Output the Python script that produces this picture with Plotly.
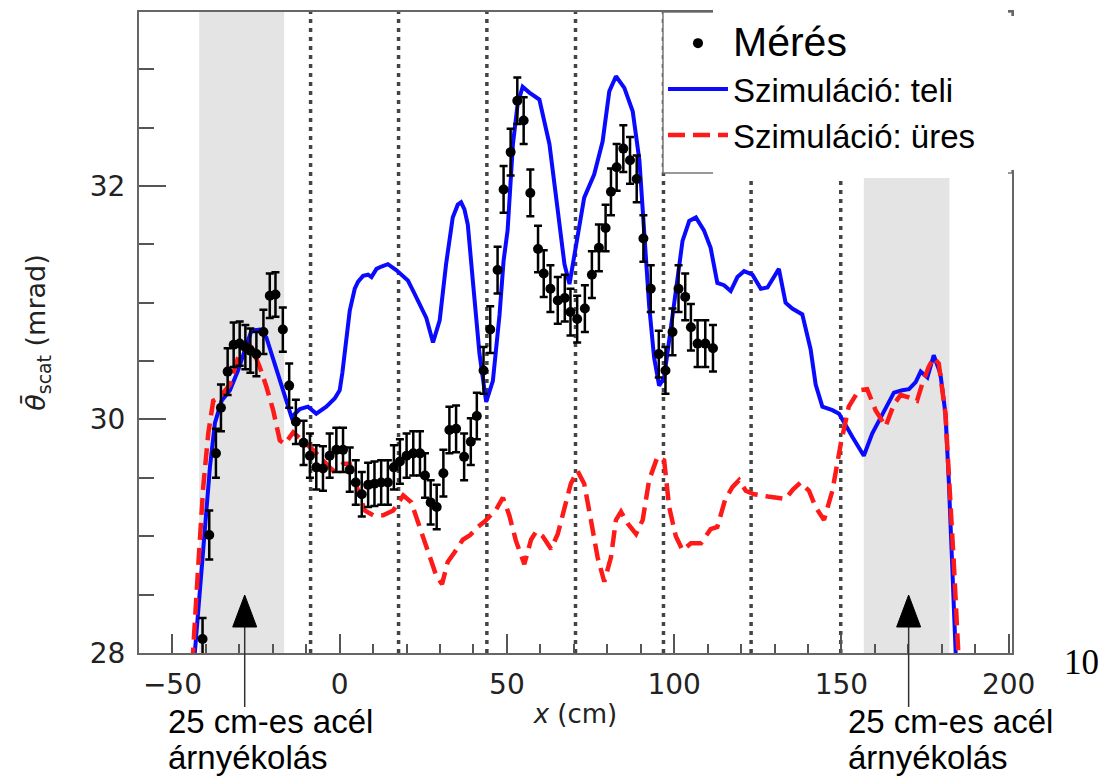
import plotly.graph_objects as go

# ---------------- data ----------------
meas_x = [-41.0, -39.0, -37.0, -35.5, -33.5, -31.7, -29.9, -28.2, -26.7, -24.9,
          -22.8, -20.9, -19.2, -17.0, -15.1, -13.1, -10.8, -8.9, -7.0, -5.0,
          -3.0, -1.0, 1.0, 3.0, 4.8, 6.6, 8.5, 10.4, 12.4, 14.4,
          16.2, 18.0, 20.0, 22.0, 24.0, 25.5, 27.2, 29.0, 31.0, 32.8,
          34.8, 37.2, 39.2, 41.0, 43.0, 45.0, 47.2, 49.0, 51.1, 53.1,
          55.0, 57.0, 59.3, 61.0, 63.0, 65.2, 67.3, 69.0, 71.0, 73.3,
          75.4, 77.5, 79.5, 81.1, 82.8, 84.8, 86.8, 88.8, 90.8, 93.0,
          95.4, 97.4, 99.5, 101.3, 103.3, 105.0, 107.0, 109.3, 111.6]
meas_y = [28.12, 29.01, 29.71, 30.10, 30.41, 30.64, 30.65, 30.62, 30.59, 30.56,
          30.75, 31.06, 31.07, 30.77, 30.29, 29.98, 29.80, 29.69, 29.59, 29.58,
          29.69, 29.74, 29.74, 29.57, 29.46, 29.36, 29.44, 29.45, 29.46, 29.46,
          29.59, 29.64, 29.69, 29.71, 29.71, 29.52, 29.29, 29.25, 29.54, 29.91,
          29.92, 29.68, 29.81, 30.03, 30.42, 30.77, 31.28, 31.97, 32.29, 32.73,
          32.56, 31.94, 31.46, 31.25, 31.12, 31.02, 31.04, 30.92, 30.86, 30.95,
          31.24, 31.47, 31.64, 31.95, 32.16, 32.32, 32.22, 32.06, 31.55, 31.12,
          30.56, 30.42, 30.75, 31.12, 31.05, 30.79, 30.65, 30.65, 30.61]
meas_err = [0.18, 0.21, 0.21, 0.20, 0.20, 0.19, 0.19, 0.19, 0.19, 0.19,
            0.19, 0.19, 0.19, 0.19, 0.19, 0.19, 0.19, 0.19, 0.19, 0.19,
            0.19, 0.19, 0.19, 0.19, 0.19, 0.19, 0.19, 0.19, 0.19, 0.19,
            0.19, 0.19, 0.19, 0.19, 0.19, 0.19, 0.19, 0.19, 0.20, 0.20,
            0.20, 0.20, 0.20, 0.20, 0.20, 0.20, 0.20, 0.20, 0.20, 0.20,
            0.20, 0.20, 0.20, 0.20, 0.20, 0.20, 0.20, 0.20, 0.20, 0.20,
            0.20, 0.20, 0.20, 0.20, 0.20, 0.20, 0.20, 0.20, 0.20, 0.20,
            0.20, 0.20, 0.20, 0.20, 0.20, 0.20, 0.20, 0.20, 0.20]

full_x = [-43.6, -43.3, -41.8, -40.3, -38.8, -37.3, -35.3, -32.8, -30.4, -28.4,
          -26.4, -23.9, -21.9, -19.9, -17.9, -15.9, -14.4, -11.9, -9.5, -7.0,
          -4.0, -1.5, 0.0, 0.8, 1.8, 3.0, 4.5, 5.5, 7.0, 8.5,
          9.5, 11.0, 12.5, 14.4, 16.9, 18.5, 20.4, 22.0, 23.9, 25.9,
          27.9, 29.9, 31.8, 33.8, 35.3, 36.3, 37.3, 38.3, 39.8, 41.8,
          43.8, 45.8, 47.8, 49.0, 50.2, 51.8, 53.2, 54.7, 56.7, 59.7,
          61.2, 62.7, 65.2, 67.2, 68.7, 70.6, 73.1, 76.1, 78.6, 80.6,
          82.6, 85.1, 87.6, 89.6, 91.0, 92.5, 94.0, 95.5, 97.0, 98.5,
          100.5, 102.5, 104.5, 106.5, 108.9, 110.9, 112.9, 114.9, 116.9, 118.9,
          120.9, 123.4, 125.9, 127.9, 131.3, 133.3, 135.3, 138.3, 140.8, 142.3,
          144.3, 147.3, 149.3, 153.3, 156.7, 159.2, 162.2, 165.7, 168.2, 170.2,
          172.2, 173.7, 175.7, 177.6, 179.6, 181.1, 182.1, 183.1, 184.1, 184.3]
full_y = [27.90, 28.00, 28.51, 29.08, 29.59, 29.97, 30.16, 30.25, 30.42, 30.59,
          30.76, 30.77, 30.70, 30.52, 30.33, 30.16, 30.02, 30.09, 30.11, 30.05,
          30.11, 30.18, 30.25, 30.40, 30.65, 30.93, 31.12, 31.18, 31.23, 31.24,
          31.22, 31.29, 31.31, 31.33, 31.28, 31.24, 31.19, 31.10, 30.99, 30.87,
          30.66, 30.85, 31.33, 31.73, 31.84, 31.86, 31.80, 31.67, 31.19, 30.56,
          30.15, 30.33, 30.90, 31.36, 31.62, 32.36, 32.70, 32.85, 32.80, 32.74,
          32.55, 32.36, 31.79, 31.33, 31.16, 31.47, 31.90, 32.10, 32.38, 32.81,
          32.94, 32.84, 32.64, 32.22, 31.62, 30.98, 30.53, 30.29, 30.36, 30.70,
          31.10, 31.53, 31.70, 31.73, 31.62, 31.47, 31.17, 31.15, 31.10, 31.22,
          31.27, 31.24, 31.12, 31.13, 31.29, 31.00, 30.95, 30.90, 30.60, 30.30,
          30.11, 30.08, 30.05, 29.85, 29.69, 29.88, 30.05, 30.23, 30.25, 30.26,
          30.32, 30.41, 30.36, 30.55, 30.39, 30.05, 29.48, 28.77, 28.03, 27.90]

empty_x = [-44.0, -43.8, -42.3, -40.8, -39.3, -37.8, -35.8, -32.8, -30.4, -28.9,
           -26.4, -23.9, -21.9, -19.9, -17.9, -16.4, -13.9, -10.9, -8.0, -5.0,
           -2.0, 1.0, 3.0, 5.5, 7.5, 10.0, 13.0, 16.0, 19.0, 21.4,
           24.2, 26.8, 28.9, 30.6, 32.3, 34.3, 36.8, 39.0, 41.3, 43.5,
           46.8, 48.8, 50.7, 52.7, 55.2, 57.2, 58.7, 60.7, 63.2, 65.2,
           67.2, 69.1, 71.1, 73.1, 75.1, 77.1, 79.1, 81.1, 82.6, 84.1,
           86.1, 88.6, 90.6, 92.5, 95.0, 97.0, 98.5, 100.5, 102.5, 105.0,
           108.0, 110.9, 112.9, 115.2, 117.4, 119.4, 121.4, 123.9, 128.0, 131.5,
           133.3, 135.5, 137.8, 140.3, 142.3, 144.8, 147.3, 149.8, 152.2, 155.2,
           157.7, 160.2, 163.2, 165.7, 167.7, 170.1, 172.6, 174.1, 176.1, 177.6,
           179.1, 181.1, 182.6, 183.6, 184.9, 185.1]
empty_y = [27.90, 28.03, 28.74, 29.42, 29.88, 30.16, 30.19, 30.30, 30.53, 30.65,
           30.62, 30.45, 30.28, 30.08, 29.82, 29.79, 29.89, 29.82, 29.74, 29.65,
           29.56, 29.62, 29.62, 29.39, 29.22, 29.18, 29.18, 29.22, 29.35, 29.29,
           29.06, 28.85, 28.66, 28.59, 28.78, 28.86, 28.97, 29.01, 29.08, 29.13,
           29.23, 29.33, 29.18, 28.96, 28.76, 28.97, 29.04, 29.00, 28.89, 29.02,
           29.25, 29.45, 29.56, 29.45, 29.14, 28.82, 28.61, 28.82, 29.14, 29.21,
           29.11, 29.02, 29.14, 29.48, 29.68, 29.65, 29.25, 29.00, 28.88, 28.94,
           28.94, 29.06, 29.08, 29.31, 29.42, 29.48, 29.39, 29.36, 29.34, 29.33,
           29.32, 29.40, 29.46, 29.39, 29.25, 29.14, 29.39, 29.79, 30.11, 30.25,
           30.26, 30.08, 29.94, 30.13, 30.21, 30.19, 30.16, 30.30, 30.45, 30.53,
           30.48, 30.05, 29.34, 28.77, 28.03, 27.90]

boundary_x = [-8.7, 17.6, 44.0, 70.5, 96.8, 123.0, 149.8]      # dotted section borders
shield_x0 = [-42.0, 156.7]                                    # steel shielding regions
shield_x1 = [-16.6, 182.3]
arrow_x = [-28.4, 170.1]                                      # callout arrows
label_x = [-52.0, 151.3]
label_lines = ["25 cm-es acél", "árnyékolás"]

x_range = [-60, 201]
y_range = [28, 33.49]
x_ticks = [-50, 0, 50, 100, 150, 200]
y_ticks = [28, 30, 32]

# ---------------- figure ----------------
fig = go.Figure()

fig.add_trace(go.Scatter(
    x=full_x, y=full_y, mode="lines", name="Szimuláció: teli",
    line=dict(color="#0a0aff", width=4), legendrank=2))
fig.add_trace(go.Scatter(
    x=empty_x, y=empty_y, mode="lines", name="Szimuláció: üres",
    line=dict(color="#ff1a1a", width=4.5, dash="17px,8px"), legendrank=3))
fig.add_trace(go.Scatter(
    x=meas_x, y=meas_y, mode="markers", name='<span style="font-size:41px">Mérés</span>',
    marker=dict(color="black", size=10, symbol="circle"),
    error_y=dict(type="data", array=meas_err, color="black", thickness=2.5, width=4),
    legendrank=1))

shapes = []
# grey shielding bands
for a, b in zip(shield_x0, shield_x1):
    shapes.append(dict(type="rect", xref="x", yref="paper", x0=a, x1=b, y0=0, y1=1,
                       fillcolor="#e4e4e4", line=dict(width=0), layer="below"))
# dotted section borders
for bx in boundary_x:
    shapes.append(dict(type="line", xref="x", yref="paper", x0=bx, x1=bx, y0=0, y1=1,
                       line=dict(color="#444444", width=3.5, dash="4px,5px"), layer="below"))
# legend frame
shapes.append(dict(type="rect", xref="paper", yref="paper", x0=0.6002, x1=1.0, y0=0.7488, y1=1.0,
                   fillcolor="white", line=dict(color="#777777", width=1.5), layer="below"))
# white label patch over the legend (as in the reference)
shapes.append(dict(type="rect", xref="paper", yref="paper", x0=0.6575, x1=0.9954, y0=0.741, y1=1.012,
                   fillcolor="white", line=dict(width=0), layer="above"))
shapes.append(dict(type="rect", xref="paper", yref="paper", x0=0.9954, x1=1.006, y0=0.7535, y1=0.9938,
                   fillcolor="white", line=dict(width=0), layer="above"))
# callout arrows
for ax_ in arrow_x:
    shapes.append(dict(type="line", xref="x", yref="paper", xsizemode="pixel", ysizemode="pixel",
                       xanchor=ax_, yanchor=0, x0=0, x1=0, y0=27, y1=-54,
                       line=dict(color="#333333", width=1.5), layer="above"))
    shapes.append(dict(type="path", xref="x", yref="paper", xsizemode="pixel", ysizemode="pixel",
                       xanchor=ax_, yanchor=0, path="M0,58 L-12,26 L12,26 Z",
                       fillcolor="black", line=dict(color="black", width=1), layer="above"))

annotations = []
for lx in label_x:
    annotations.append(dict(x=lx, y=-0.1076, xref="x", yref="paper", text=label_lines[0],
                            showarrow=False, xanchor="left", yanchor="middle",
                            font=dict(family="Liberation Sans", size=33, color="black")))
    annotations.append(dict(x=lx, y=-0.1638, xref="x", yref="paper", text=label_lines[1],
                            showarrow=False, xanchor="left", yanchor="middle",
                            font=dict(family="Liberation Sans", size=33, color="black")))
annotations.append(dict(x=1.057, y=-0.0156, xref="paper", yref="paper", text="10",
                        showarrow=False, xanchor="left", yanchor="middle",
                        font=dict(family="Liberation Serif", size=35, color="black")))

axis_common = dict(showgrid=False, zeroline=False, showline=True, linecolor="#666666",
                   linewidth=2, mirror=True, ticks="inside", tickcolor="#555555", tickwidth=1.5,
                   tickfont=dict(family="DejaVu Sans", size=28, color="#222222"))

fig.update_layout(
    width=1100, height=782,
    margin=dict(l=139, r=88, t=12, b=129, autoexpand=False),
    paper_bgcolor="white", plot_bgcolor="white",
    showlegend=True,
    legend=dict(x=0.6002, y=0.995, xanchor="left", yanchor="top",
                bgcolor="rgba(0,0,0,0)", borderwidth=0, itemwidth=60,
                font=dict(family="Liberation Sans", size=33, color="black"),
                tracegroupgap=0),
    shapes=shapes, annotations=annotations,
    xaxis=dict(range=x_range, tickvals=x_ticks, ticklen=19, ticklabelstandoff=5,
               minor=dict(dtick=10, tick0=0, ticks="inside", ticklen=9, tickcolor="#555555", tickwidth=1.5),
               title=dict(text="<i>x</i> (cm)", standoff=5,
                          font=dict(family="DejaVu Sans", size=26, color="#222222")),
               automargin=False, **axis_common),
    yaxis=dict(range=y_range, tickvals=y_ticks, ticklen=27, ticklabelstandoff=6,
               minor=dict(dtick=0.5, tick0=28, ticks="inside", ticklen=15, tickcolor="#555555", tickwidth=1.5),
               title=dict(text="<i>\u03b8\u0304</i><sub>scat</sub> (mrad)", standoff=36,
                          font=dict(family="DejaVu Sans", size=27, color="#222222")),
               automargin=False, **axis_common),
)

fig.write_html("out.html")
